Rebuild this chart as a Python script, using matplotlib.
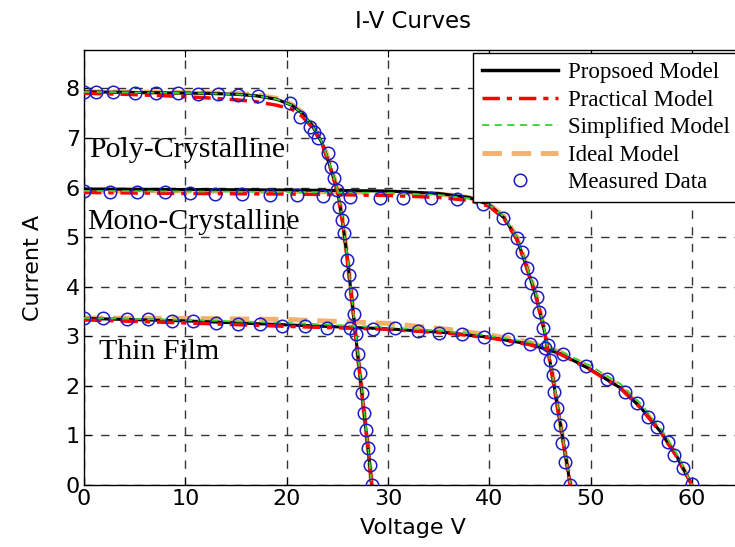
import matplotlib
matplotlib.use("Agg")
import matplotlib.pyplot as plt

# datos medidos (circulos)
poly_v = [0.0, 1.2, 2.9, 5.0, 7.1, 9.3, 11.3, 13.2, 15.2, 17.2, 20.3, 21.3, 22.3, 22.7, 23.1, 24.1,
          24.4, 24.7, 25.0, 25.2, 25.5, 25.7, 26.0, 26.2, 26.4, 26.6, 26.8, 27.0, 27.2, 27.4, 27.6,
          27.8, 28.0, 28.2, 28.4]
poly_i = [7.93, 7.93, 7.92, 7.90, 7.90, 7.90, 7.89, 7.88, 7.87, 7.84, 7.70, 7.42, 7.22, 7.12, 7.00, 6.69,
          6.41, 6.19, 5.95, 5.60, 5.34, 5.08, 4.54, 4.23, 3.85, 3.45, 3.05, 2.65, 2.25, 1.85, 1.45,
          1.10, 0.75, 0.40, 0.0]

mono_v = [0.0, 2.6, 5.2, 8.0, 10.5, 12.9, 15.6, 18.4, 21.0, 23.6, 26.3, 29.2, 31.5, 34.2, 36.8, 39.4,
          41.4, 42.7, 43.2, 43.7, 44.1, 44.7, 44.9, 45.3, 45.8, 46.0, 46.3, 46.4, 46.7, 47.0, 47.2,
          47.5, 48.0]
mono_i = [5.93, 5.91, 5.90, 5.90, 5.88, 5.87, 5.86, 5.85, 5.85, 5.82, 5.81, 5.79, 5.79, 5.79, 5.77, 5.67,
          5.38, 4.98, 4.70, 4.37, 4.07, 3.79, 3.49, 3.17, 2.82, 2.52, 2.22, 1.88, 1.55, 1.21, 0.85,
          0.46, 0.0]

thin_v = [0.0, 1.9, 4.2, 6.3, 8.7, 10.8, 13.0, 15.2, 17.4, 19.5, 21.8, 24.0, 26.3, 28.5, 30.7, 33.0,
          35.0, 37.3, 39.5, 41.8, 44.0, 45.5, 47.3, 49.5, 51.6, 53.4, 54.6, 55.7, 56.6, 57.6, 58.2,
          59.1, 60.0]
thin_i = [3.37, 3.37, 3.35, 3.35, 3.31, 3.31, 3.27, 3.24, 3.24, 3.21, 3.21, 3.17, 3.17, 3.15, 3.17, 3.11,
          3.06, 3.04, 2.98, 2.94, 2.84, 2.76, 2.64, 2.40, 2.14, 1.88, 1.65, 1.37, 1.17, 0.87, 0.60,
          0.34, 0.02]

# curvas de los modelos
poly_mv = [0, 4, 8, 12, 15, 17, 19, 20.5, 21.5, 22.5, 23.5, 24.3, 25.0, 25.5, 26.0, 26.5, 27.0, 27.5, 28.0, 28.4]
poly_prop = [7.93, 7.92, 7.91, 7.90, 7.88, 7.85, 7.78, 7.66, 7.50, 7.26, 6.90, 6.42, 5.95, 5.35, 4.55, 3.62, 2.66, 1.72, 0.80, 0]
poly_prac = [7.90, 7.88, 7.85, 7.81, 7.77, 7.73, 7.66, 7.58, 7.44, 7.22, 6.88, 6.40, 5.93, 5.33, 4.53, 3.60, 2.64, 1.70, 0.79, 0]
poly_simp = [7.93, 7.92, 7.91, 7.90, 7.88, 7.85, 7.78, 7.66, 7.50, 7.26, 6.91, 6.44, 5.97, 5.38, 4.58, 3.66, 2.70, 1.76, 0.84, 0]
poly_ideal = [7.93, 7.93, 7.92, 7.91, 7.90, 7.87, 7.80, 7.68, 7.52, 7.28, 6.93, 6.46, 5.98, 5.38, 4.57, 3.64, 2.68, 1.74, 0.82, 0]

mono_mv = [0, 10, 20, 30, 35, 38, 40, 41.5, 42.7, 43.7, 44.7, 45.5, 46.2, 46.8, 47.4, 48.0]
mono_prop = [5.97, 5.96, 5.95, 5.93, 5.88, 5.80, 5.65, 5.38, 4.98, 4.40, 3.75, 3.05, 2.25, 1.50, 0.75, 0]
mono_prac = [5.90, 5.88, 5.87, 5.84, 5.80, 5.74, 5.62, 5.36, 4.96, 4.38, 3.73, 3.03, 2.23, 1.48, 0.73, 0]
mono_simp = [5.93, 5.92, 5.91, 5.89, 5.85, 5.78, 5.65, 5.40, 5.00, 4.42, 3.78, 3.08, 2.28, 1.53, 0.77, 0]
mono_ideal = [5.93, 5.93, 5.92, 5.90, 5.87, 5.80, 5.66, 5.41, 5.01, 4.43, 3.79, 3.08, 2.28, 1.52, 0.76, 0]

thin_mv = [0, 10, 20, 30, 36, 40, 44, 47, 50, 53, 55, 57, 58.5, 60]
thin_prop = [3.36, 3.31, 3.23, 3.15, 3.07, 2.98, 2.84, 2.65, 2.33, 1.95, 1.55, 1.05, 0.58, 0]
thin_prac = [3.33, 3.27, 3.20, 3.14, 3.06, 2.97, 2.83, 2.64, 2.32, 1.94, 1.54, 1.04, 0.57, 0]
thin_simp = [3.37, 3.33, 3.27, 3.18, 3.10, 3.01, 2.88, 2.70, 2.40, 2.03, 1.63, 1.12, 0.64, 0]
thin_ideal = [3.37, 3.36, 3.34, 3.26, 3.14, 3.03, 2.88, 2.68, 2.36, 1.98, 1.57, 1.06, 0.59, 0]

etiquetas = ["Propsoed Model", "Practical Model", "Simplified Model", "Ideal Model", "Measured Data"]

fig = plt.figure(figsize=(7.35, 5.47), dpi=100)
ax = fig.add_axes([0.1143, 0.1133, 0.896, 0.795])

curvas = [
    (poly_mv, poly_prop, poly_prac, poly_simp, poly_ideal, poly_v, poly_i),
    (mono_mv, mono_prop, mono_prac, mono_simp, mono_ideal, mono_v, mono_i),
    (thin_mv, thin_prop, thin_prac, thin_simp, thin_ideal, thin_v, thin_i),
]

# se grafican los cuatro modelos y los datos medidos de cada panel
for mv, prop, prac, simp, ideal, v, i in curvas:
    ax.plot(mv, ideal, color="#f4b06c", lw=3.5, dashes=(4, 2), zorder=2)
    ax.plot(mv, prop, color="black", lw=2.2, zorder=3)
    ax.plot(mv, prac, color="red", lw=2.5, dashes=(5, 2, 1.5, 2), zorder=4)
    ax.plot(mv, simp, color="#33d633", lw=1.3, dashes=(4, 3), zorder=5)
    ax.plot(v, i, "o", mfc="none", mec="#1c1cc4", ms=9, mew=1.1, zorder=6)

# entradas de la leyenda
h1, = ax.plot([], [], color="black", lw=2.5)
h2, = ax.plot([], [], color="red", lw=2.5, dashes=(5, 2, 1.5, 2))
h3, = ax.plot([], [], color="#33d633", lw=1.3, dashes=(4, 3))
h4, = ax.plot([], [], color="#f4b06c", lw=3.5, dashes=(4, 2))
h5, = ax.plot([], [], "o", mfc="none", mec="#1c1cc4", ms=9, mew=1.1)

ax.set_xlim(0, 65)
ax.set_ylim(0, 8.77)
ax.set_xticks(range(0, 70, 10))
ax.set_yticks(range(0, 9))
ax.grid(True, color="#333333", linestyle=(0, (6, 6)), lw=1)
ax.set_axisbelow(True)
ax.tick_params(direction="in", length=5, top=True, right=True, labelsize=16, pad=3)
for s in ax.spines.values():
    s.set_linewidth(1)

ax.set_title("I-V Curves", fontsize=16.5, pad=16)
ax.set_xlabel("Voltage V", fontsize=16, labelpad=6)
ax.set_ylabel("Current A", fontsize=16, labelpad=16)

serif = "Liberation Serif"
ax.text(0.5, 6.75, "Poly-Crystalline", fontsize=21.5, family=serif, va="center")
ax.text(0.3, 5.3, "Mono-Crystalline", fontsize=21.5, family=serif, va="center")
ax.text(1.5, 2.68, "Thin Film", fontsize=21.5, family=serif, va="center")

leg = fig.legend([h1, h2, h3, h4, h5], etiquetas, loc="upper left",
                 bbox_to_anchor=(473 / 735, 1 - 53 / 547), bbox_transform=fig.transFigure,
                 prop={"family": serif, "size": 16.5}, handlelength=3.3, handletextpad=0.45,
                 labelspacing=0.28, borderpad=0.4, borderaxespad=0, fancybox=False,
                 framealpha=1, edgecolor="black")
leg.get_frame().set_linewidth(1)

fig.savefig("out.png", dpi=100)
